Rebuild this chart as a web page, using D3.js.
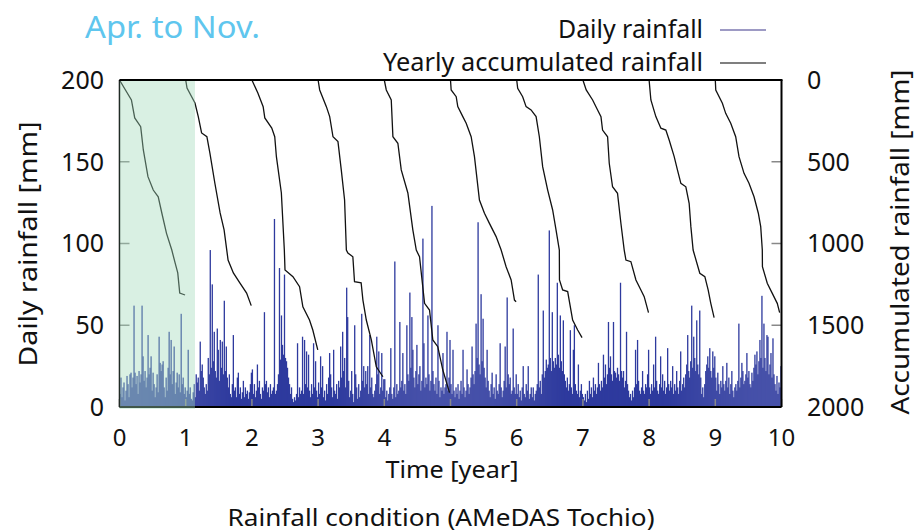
<!DOCTYPE html>
<html>
<head>
<meta charset="utf-8">
<script src="https://cdn.jsdelivr.net/npm/d3@7"></script>
<style>
  body { margin: 0; background: #fff; }
  text { font-family: "Noto Sans", "Open Sans", sans-serif; fill: #111; }
</style>
</head>
<body>
<div id="chart"></div>
<script>
// daily rainfall [mm], one value per ~5.5 days, one array per year
var rainYear1 = [8,18,6,12,15,4,10,19,14,6,20,21,12,18,62,21,14,19,8,22,15,20,62,31,16,22,12,18,44,20,24,31,10,21,14,6,12,20,9,43,27,22,26,28,12,6,18,10,24,46,20,41,14,22,37,8,15,21,12,20,9,57,14,18,8,12];
var rainYear2 = [6,10,35,8,12,5,4,9,14,6,20,15,18,10,40,22,26,18,12,8,14,10,30,20,96,24,75,28,46,22,18,48,35,16,41,24,40,20,65,22,37,18,12,20,8,6,14,44,10,12,6,18,21,8,12,5,9,16,6,12,8,10,5,9,14,21];
var rainYear3 = [23,8,14,6,10,26,12,16,8,5,12,10,58,14,16,9,12,6,14,8,10,12,115,8,10,14,20,85,29,56,38,32,81,30,28,24,18,14,8,12,5,3,6,4,8,39,6,12,8,10,43,8,41,14,34,12,32,10,6,14,8,39,12,28,10,6];
var rainYear4 = [15,8,31,12,25,6,10,4,14,8,18,33,20,12,6,35,10,8,14,5,16,12,37,18,46,22,30,12,73,55,16,6,10,22,8,3,50,20,12,5,14,6,10,57,16,25,12,22,14,25,8,44,12,18,8,6,10,14,43,20,34,8,12,33,10,17];
var rainYear5 = [17,6,10,4,8,12,36,8,5,12,89,6,14,8,10,52,12,16,33,10,14,8,50,20,16,70,24,55,35,18,12,22,38,14,20,25,10,16,103,39,12,18,14,56,20,10,16,123,22,14,10,18,8,50,16,6,12,10,33,8,12,14,46,10,18,41];
var rainYear6 = [14,8,35,10,6,12,8,14,5,10,16,8,35,12,6,10,23,14,8,12,18,37,20,14,22,51,30,113,26,20,69,28,54,24,18,12,35,16,10,6,14,21,8,12,5,20,10,8,14,39,12,6,10,16,37,12,67,20,14,18,8,10,48,12,8,20];
var rainYear7 = [8,14,6,10,4,12,25,8,6,14,10,25,5,8,12,6,12,4,8,10,14,81,12,16,8,20,59,18,22,29,24,26,108,30,22,58,28,24,30,26,76,32,24,56,28,22,53,20,16,12,18,10,14,47,12,8,35,50,14,10,8,26,6,10,14,8];
var rainYear8 = [6,4,8,3,10,5,16,8,12,6,18,10,14,8,12,27,14,10,16,12,32,18,26,14,20,52,24,31,20,16,52,22,21,18,24,20,16,76,22,18,22,12,16,46,14,10,6,8,4,10,6,12,35,14,41,16,10,8,12,22,10,8,14,12,20,35];
var rainYear9 = [12,8,14,10,26,12,43,16,10,8,14,31,12,20,10,16,8,12,36,14,10,16,12,25,8,14,10,22,12,8,16,34,10,14,18,12,20,26,44,22,18,28,62,24,43,30,22,53,26,20,59,18,8,12,6,14,22,26,31,24,36,22,18,34,24,31];
var rainYear10 = [18,10,21,14,8,16,12,25,14,10,16,27,12,18,8,14,22,10,6,12,14,10,16,51,12,18,27,22,14,16,20,33,18,22,14,12,21,16,24,32,26,34,20,28,41,30,68,24,51,30,22,44,43,20,26,33,18,42,20,14,10,19,8,15,12,25];

// yearly accumulated rainfall [mm]: [time into the year, total]
var accYear1 = [[0,0],[0.18,122],[0.23,232],[0.32,286],[0.36,428],[0.43,591],[0.51,673],[0.585,714],[0.64,815],[0.71,938],[0.79,1040],[0.84,1119],[0.88,1180],[0.91,1303],[0.99,1315]];
var accYear2 = [[0,0],[0.02,49],[0.14,141],[0.19,224],[0.24,324],[0.32,347],[0.365,446],[0.44,630],[0.52,813],[0.58,917],[0.64,1101],[0.72,1180],[0.82,1242],[0.92,1303],[0.99,1380]];
var accYear3 = [[0,0],[0.09,80],[0.17,163],[0.195,232],[0.30,294],[0.345,347],[0.37,469],[0.445,691],[0.49,1040],[0.50,1162],[0.62,1203],[0.72,1264],[0.77,1387],[0.87,1468],[0.92,1529],[0.995,1651]];
var accYear4 = [[0,0],[0.024,61],[0.125,163],[0.175,224],[0.225,347],[0.30,377],[0.35,550],[0.40,734],[0.427,1040],[0.45,1058],[0.525,1081],[0.55,1234],[0.65,1240],[0.677,1346],[0.728,1468],[0.804,1590],[0.879,1754],[0.979,1815]];
var accYear5 = [[0,0],[0.03,61],[0.105,122],[0.13,347],[0.205,387],[0.256,550],[0.356,691],[0.431,917],[0.483,1040],[0.532,1081],[0.608,1366],[0.683,1407],[0.733,1590],[0.808,1631],[0.884,1774],[0.985,1912]];
var accYear6 = [[0,0],[0.01,61],[0.086,102],[0.11,163],[0.186,224],[0.237,265],[0.312,347],[0.362,469],[0.437,734],[0.513,815],[0.588,877],[0.689,958],[0.765,1040],[0.84,1142],[0.916,1223],[0.966,1346],[0.991,1356]];
var accYear7 = [[0,0],[0.015,51],[0.09,102],[0.142,163],[0.217,183],[0.293,224],[0.342,347],[0.392,530],[0.468,673],[0.543,795],[0.594,917],[0.644,1040],[0.646,1223],[0.694,1284],[0.77,1294],[0.845,1468],[0.921,1529],[0.987,1576]];
var accYear8 = [[0,0],[0.05,61],[0.147,122],[0.222,183],[0.273,224],[0.297,306],[0.373,347],[0.398,509],[0.448,653],[0.523,693],[0.574,876],[0.624,1040],[0.65,1101],[0.725,1111],[0.801,1223],[0.876,1284],[0.926,1325],[0.991,1423]];
var accYear9 = [[0,0],[0.027,122],[0.102,224],[0.178,295],[0.253,306],[0.303,367],[0.379,469],[0.428,550],[0.48,632],[0.555,653],[0.605,754],[0.631,897],[0.665,1040],[0.766,1182],[0.842,1203],[0.892,1284],[0.932,1366],[0.982,1454]];
var accYear10 = [[0,0],[0.007,61],[0.107,142],[0.157,204],[0.233,265],[0.308,347],[0.358,469],[0.434,571],[0.509,632],[0.585,714],[0.65,815],[0.686,897],[0.71,1040],[0.712,1142],[0.785,1243],[0.861,1305],[0.936,1366],[0.972,1423]];

var yearTicks = [0,1,2,3,4,5,6,7,8,9,10];
var rainTicks = [0,50,100,150,200];
var accTicks = [0,500,1000,1500,2000];
var shadeSpan = [0, 1.14];   // "Apr. to Nov." highlighted period [year]

var rainYears = [rainYear1,rainYear2,rainYear3,rainYear4,rainYear5,rainYear6,rainYear7,rainYear8,rainYear9,rainYear10];
var accYears = [accYear1,accYear2,accYear3,accYear4,accYear5,accYear6,accYear7,accYear8,accYear9,accYear10];

var W = 916, H = 532;
var plotL = 119.5, plotR = 781.5, plotT = 80, plotB = 407;

var svg = d3.select("#chart").append("svg")
    .attr("width", W)
    .attr("height", H);

var x = d3.scaleLinear().domain([0, 10]).range([plotL, plotR]);
var yRain = d3.scaleLinear().domain([0, 200]).range([plotB, plotT]);
var yAcc = d3.scaleLinear().domain([0, 2000]).range([plotT, plotB]);

// flatten daily data into points
var daily = [];
rainYears.forEach(function(arr, k) {
    arr.forEach(function(v, i) {
        daily.push({t: k + (i + 0.5) / arr.length, v: v});
    });
});

var barW = (x(1) - x(0)) / 66 * 1.3;

svg.append("g")
   .selectAll("rect")
   .data(daily)
   .enter().append("rect")
   .attr("x", function(d) { return x(d.t) - barW / 2; })
   .attr("width", barW)
   .attr("y", function(d) { return yRain(d.v); })
   .attr("height", function(d) { return plotB - yRain(d.v); })
   .attr("fill", "#2e3a9e");

// accumulated curves
var line = d3.line()
    .x(function(d) { return x(d[0]); })
    .y(function(d) { return yAcc(d[1]); });

svg.append("g")
   .selectAll("path")
   .data(accYears)
   .enter().append("path")
   .attr("d", function(d, k) { return line(d.map(function(p) { return [k + p[0], p[1]]; })); })
   .attr("fill", "none")
   .attr("stroke", "#111")
   .attr("stroke-width", 1.3);

// inward ticks
var tickG = svg.append("g").attr("stroke", "#888").attr("stroke-width", 1.5);
tickG.selectAll(".lt").data(rainTicks).enter().append("line")
   .attr("x1", plotL).attr("x2", plotL + 10)
   .attr("y1", function(d) { return yRain(d); })
   .attr("y2", function(d) { return yRain(d); });
tickG.selectAll(".rt").data(accTicks).enter().append("line")
   .attr("x1", plotR).attr("x2", plotR - 10)
   .attr("y1", function(d) { return yAcc(d); })
   .attr("y2", function(d) { return yAcc(d); });
tickG.selectAll(".bt").data(yearTicks).enter().append("line")
   .attr("x1", function(d) { return x(d); })
   .attr("x2", function(d) { return x(d); })
   .attr("y1", plotB).attr("y2", plotB - 8);

// frame: left and bottom (under the shading)
svg.append("line").attr("x1", plotL).attr("x2", plotL).attr("y1", plotT).attr("y2", plotB)
   .attr("stroke", "#000").attr("stroke-width", 1.5);
svg.append("line").attr("x1", plotL).attr("x2", plotR).attr("y1", plotB).attr("y2", plotB)
   .attr("stroke", "#000").attr("stroke-width", 2);

// shaded period
svg.append("rect")
   .attr("x", x(shadeSpan[0]))
   .attr("y", plotT + 1)
   .attr("width", x(shadeSpan[1]) - x(shadeSpan[0]))
   .attr("height", plotB - plotT + 1)
   .attr("fill", "rgb(160,218,185)")
   .attr("fill-opacity", 0.4);

// frame: top and right
svg.append("line").attr("x1", plotL).attr("x2", plotR + 1).attr("y1", plotT).attr("y2", plotT)
   .attr("stroke", "#000").attr("stroke-width", 2);
svg.append("line").attr("x1", plotR).attr("x2", plotR).attr("y1", plotT).attr("y2", plotB)
   .attr("stroke", "#000").attr("stroke-width", 2);

// tick labels
svg.append("g").selectAll("text").data(rainTicks).enter().append("text")
   .attr("x", 104).attr("y", function(d) { return yRain(d); })
   .attr("dy", "0.35em").attr("text-anchor", "end").attr("font-size", 25)
   .text(function(d) { return d; });
svg.append("g").selectAll("text").data(accTicks).enter().append("text")
   .attr("x", 807).attr("y", function(d) { return yAcc(d); })
   .attr("dy", "0.35em").attr("text-anchor", "start").attr("font-size", 25)
   .text(function(d) { return d; });
svg.append("g").selectAll("text").data(yearTicks).enter().append("text")
   .attr("x", function(d) { return x(d); }).attr("y", 438)
   .attr("dy", "0.35em").attr("text-anchor", "middle").attr("font-size", 24)
   .text(function(d) { return d; });

function label(txt, px, py, size, len, anchor, rot, color) {
    var t = svg.append("text")
       .attr("x", px).attr("y", py)
       .attr("dy", "0.35em")
       .attr("font-size", size)
       .attr("text-anchor", anchor)
       .attr("textLength", len)
       .attr("lengthAdjust", "spacingAndGlyphs")
       .text(txt);
    if (rot) t.attr("transform", "rotate(-90," + px + "," + py + ")");
    if (color) t.style("fill", color);
    return t;
}

label("Apr. to Nov.", 85, 27, 30, 175, "start", false, "#5fc6ee");
label("Daily rainfall", 703, 29, 26, 145, "end");
label("Yearly accumulated rainfall", 703, 62, 26, 320, "end");
label("Daily rainfall [mm]", 28, 244, 26, 245, "middle", true);
label("Accumulated rainfall [mm]", 900, 242, 26, 345, "middle", true);
label("Time [year]", 452, 470, 24, 133, "middle");
label("Rainfall condition (AMeDAS Tochio)", 441, 518, 23, 427, "middle");

// legend samples
svg.append("line").attr("x1", 720).attr("x2", 766).attr("y1", 30).attr("y2", 30)
   .attr("stroke", "#9d9ac4").attr("stroke-width", 2);
svg.append("line").attr("x1", 720).attr("x2", 766).attr("y1", 63).attr("y2", 63)
   .attr("stroke", "#555").attr("stroke-width", 1.5);
</script>
</body>
</html>
